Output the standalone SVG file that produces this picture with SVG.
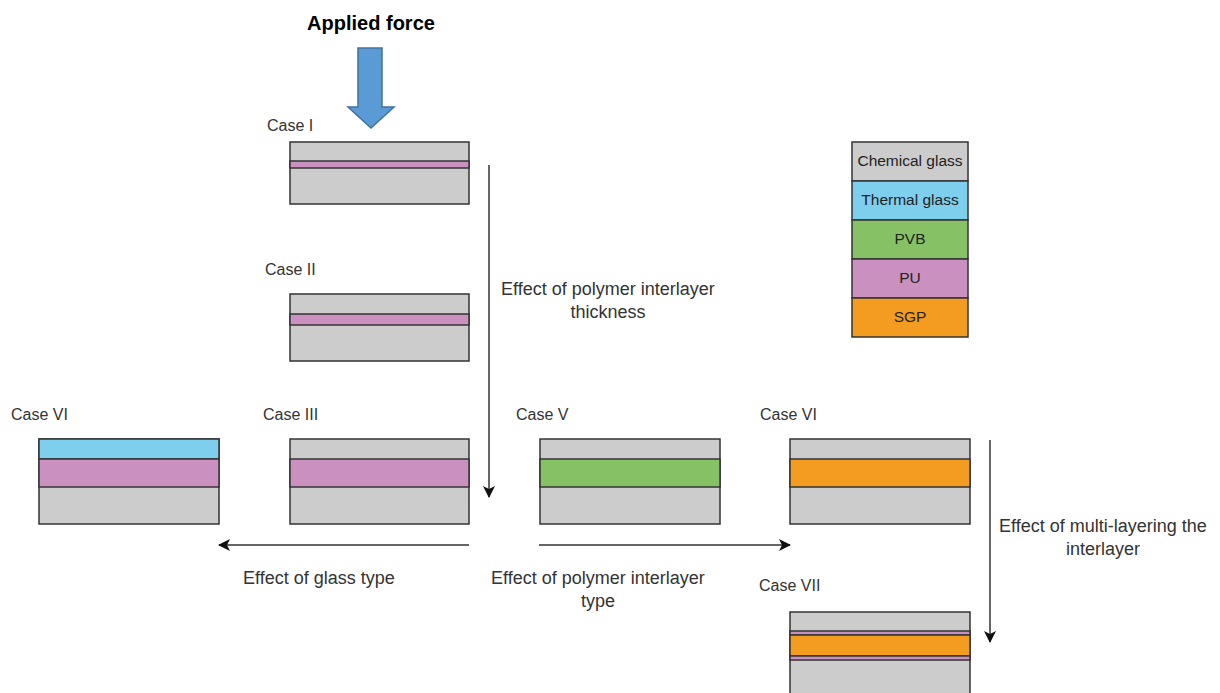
<svg xmlns="http://www.w3.org/2000/svg" width="1220" height="693" viewBox="0 0 1220 693">
<defs>
<style>
.g{fill:#cccccc;stroke:#333;stroke-width:1.5}
.pu{fill:#c990c0;stroke:#333;stroke-width:1.5}
.th{fill:#7ecfed;stroke:#333;stroke-width:1.5}
.pvb{fill:#86c166;stroke:#333;stroke-width:1.5}
.sgp{fill:#f39c20;stroke:#333;stroke-width:1.5}
.lbl{font-family:"Liberation Sans",Arial,sans-serif;font-size:16px;fill:#333}
.eff{font-family:"Liberation Sans",Arial,sans-serif;font-size:18px;fill:#333;text-anchor:middle}
.leg{font-family:"Liberation Sans",Arial,sans-serif;font-size:15.5px;fill:#222;text-anchor:middle}
.con{stroke:#333;stroke-width:1.5;fill:none}
</style>
<marker id="ah" markerWidth="12" markerHeight="12" refX="11" refY="6" orient="auto" markerUnits="userSpaceOnUse" viewBox="0 0 12 12">
<path d="M0,0 L12,6 L0,12 L3,6 Z" fill="#111"/>
</marker>
</defs>
<rect width="1220" height="693" fill="#fff"/>

<g id="force">
<text x="371" y="30" text-anchor="middle" font-family="Liberation Sans,Arial,sans-serif" font-size="20" font-weight="bold" fill="#000">Applied force</text>
<path d="M358,48 L382,48 L382,107 L394,107 L371,128 L348,107 L358,107 Z" fill="#5b9bd5" stroke="#41719c" stroke-width="1.5"/>
</g>

<g id="case1">
<text class="lbl" x="267" y="131">Case I</text>
<rect class="g" x="290" y="142" width="179" height="62"/>
<rect class="pu" x="290" y="161" width="179" height="7"/>
</g>

<g id="case2">
<text class="lbl" x="265" y="275">Case II</text>
<rect class="g" x="290" y="294" width="179" height="67"/>
<rect class="pu" x="290" y="314" width="179" height="11"/>
</g>

<g id="case3">
<text class="lbl" x="263" y="420">Case III</text>
<rect class="g" x="290" y="439" width="179" height="85"/>
<rect class="pu" x="290" y="459" width="179" height="28"/>
</g>

<g id="case6left">
<text class="lbl" x="11" y="420">Case VI</text>
<rect class="g" x="39" y="439" width="180" height="85"/>
<rect class="th" x="39" y="439" width="180" height="20"/>
<rect class="pu" x="39" y="459" width="180" height="28"/>
</g>

<g id="case5">
<text class="lbl" x="516" y="420">Case V</text>
<rect class="g" x="540" y="439" width="180" height="85"/>
<rect class="pvb" x="540" y="459" width="180" height="28"/>
</g>

<g id="case6right">
<text class="lbl" x="760" y="420">Case VI</text>
<rect class="g" x="790" y="439" width="180" height="85"/>
<rect class="sgp" x="790" y="459" width="180" height="28"/>
</g>

<g id="case7">
<text class="lbl" x="759" y="591">Case VII</text>
<rect class="g" x="790" y="612" width="180" height="90"/>
<rect class="pu" x="790" y="631" width="180" height="4"/>
<rect class="sgp" x="790" y="635" width="180" height="21"/>
<rect class="pu" x="790" y="656" width="180" height="4"/>
</g>

<g id="legend">
<rect class="g" x="852" y="142" width="116" height="39"/>
<rect class="th" x="852" y="181" width="116" height="39"/>
<rect class="pvb" x="852" y="220" width="116" height="39"/>
<rect class="pu" x="852" y="259" width="116" height="39"/>
<rect class="sgp" x="852" y="298" width="116" height="39"/>
<text class="leg" x="910" y="166">Chemical glass</text>
<text class="leg" x="910" y="205">Thermal glass</text>
<text class="leg" x="910" y="244">PVB</text>
<text class="leg" x="910" y="283">PU</text>
<text class="leg" x="910" y="322">SGP</text>
</g>

<g id="connectors">
<line class="con" x1="489" y1="165" x2="489" y2="497" marker-end="url(#ah)"/>
<line class="con" x1="990" y1="440" x2="990" y2="642" marker-end="url(#ah)"/>
<line class="con" x1="469" y1="545" x2="219" y2="545" marker-end="url(#ah)"/>
<line class="con" x1="539" y1="545" x2="790" y2="545" marker-end="url(#ah)"/>
<text class="eff" x="608" y="295">Effect of polymer interlayer</text>
<text class="eff" x="608" y="318">thickness</text>
<text class="eff" x="319" y="584">Effect of glass type</text>
<text class="eff" x="598" y="584">Effect of polymer interlayer</text>
<text class="eff" x="598" y="607">type</text>
<text class="eff" x="1103" y="532">Effect of multi-layering the</text>
<text class="eff" x="1103" y="555">interlayer</text>
</g>
</svg>
